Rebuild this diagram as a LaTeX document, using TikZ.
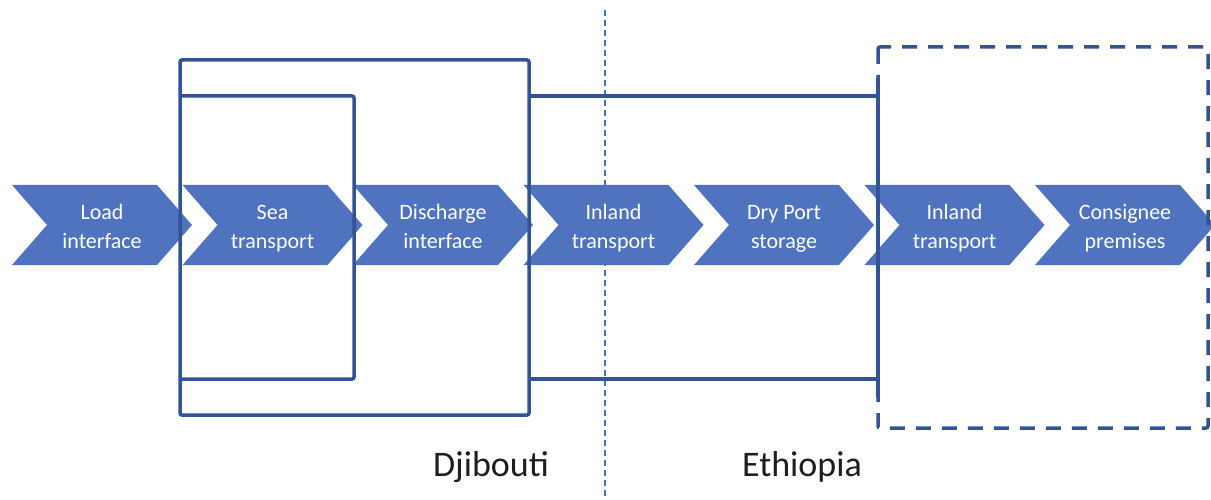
\documentclass[tikz,border=0pt]{standalone}
\usepackage{fontspec}
\setmainfont{Carlito}
\usetikzlibrary{shapes.symbols}
\definecolor{chev}{RGB}{79,115,190}
\definecolor{frame}{RGB}{50,84,148}
\definecolor{border}{RGB}{68,114,196}
\definecolor{labelc}{RGB}{30,30,30}
\begin{document}
\begin{tikzpicture}[x=1pt,y=-1pt,
  chevron/.style={signal, signal from=west, signal to=east, signal pointer angle=97.6,
    fill=chev, draw=none, minimum width=180pt, minimum height=80pt, inner sep=0pt},
  chevtext/.style={text=white, font=\fontsize{22}{29}\selectfont, align=center, inner sep=0pt},
  frameline/.style={draw=frame, line width=3.5pt, rounded corners=2pt},
  borderline/.style={draw=border, line width=1.5pt, dash pattern=on 6pt off 4pt},
  dashedframe/.style={frameline, dash pattern=on 15pt off 11pt},
  country/.style={text=labelc, font=\fontsize{36}{40}\selectfont}]
\useasboundingbox (0,0) rectangle (1211,500);
% country border
\coordinate (bt) at (605,10);
\coordinate (bb) at (605,497);
\draw[borderline] (bt) -- (bb);
% chevrons
\foreach \i/\x/\txt in {1/102/{Load\strut\\interface\strut},
                        2/272.5/{Sea\strut\\transport\strut},
                        3/443/{Discharge\strut\\interface\strut},
                        4/613.5/{Inland\strut\\transport\strut},
                        5/784/{Dry Port\strut\\storage\strut},
                        6/954.5/{Inland\strut\\transport\strut},
                        7/1125/{Consignee\strut\\premises\strut}}{
  \node[chevron] (c\i) at (\x,225) {};
  \node[chevtext] (t\i) at (\x,228.5) {\txt};
}
% brackets
\draw[frameline] (180,60) rectangle (529,415);
\draw[frameline] (180,96) -| (354,379) -- (180,379);
\draw[frameline] (529,96) -- (878,96);
\draw[frameline] (529,379) -- (878,379);
\draw[dashedframe] (878,47) rectangle (1208,428);
\draw[frameline] (878,78) -- (878,397);
% labels
\node[country] (dj) at (491,467) {Djibouti};
\node[country] (et) at (802,467) {Ethiopia};
\end{tikzpicture}
\end{document}
